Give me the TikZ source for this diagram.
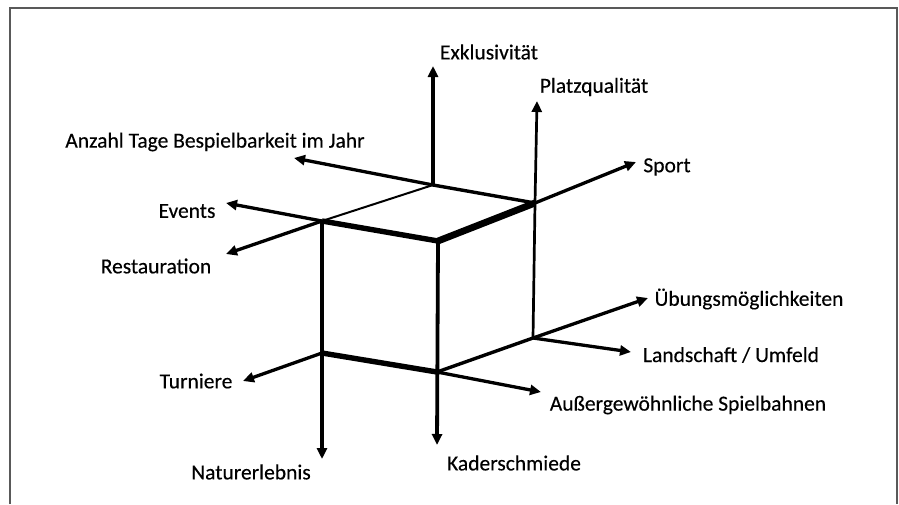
\documentclass[tikz,border=0pt]{standalone}
\usepackage{fontspec}
\setmainfont[FakeBold=0.3]{Carlito}
\usetikzlibrary{arrows.meta}
\begin{document}
\begin{tikzpicture}[x=1pt,y=-1pt,
  lbl/.style={font=\fontsize{21.5}{24}\selectfont, inner sep=0pt, anchor=center},
  ax/.style={line width=3.3pt, -{Triangle[length=11pt,width=10pt]}},
  vax/.style={line width=3.8pt, -{Triangle[length=11pt,width=10pt]}},
  thinax/.style={line width=2.7pt, -{Triangle[length=11pt,width=10pt]}},
  edgethin/.style={line width=2pt},
  edgemid/.style={line width=3.4pt},
  edgethick/.style={line width=5.4pt},
  edgeheavy/.style={line width=6.8pt},
  frameline/.style={line width=1.8pt, draw=black!65}]
\useasboundingbox (0,0) rectangle (899,504);
% frame
\draw[frameline] (10,504) -- (10,8) -- (897,8) -- (897,504);
% cube vertices
\coordinate (TBL) at (433,185);
\coordinate (TBR) at (535,203);
\coordinate (TFL) at (322,221);
\coordinate (TFR) at (438,241);
\coordinate (BFL) at (322,353);
\coordinate (BFR) at (437,372);
\coordinate (BBR) at (533,338);
% arrow tips
\coordinate (tExk) at (433,66);
\coordinate (tPlatz) at (537,101);
\coordinate (tAnz) at (294,158);
\coordinate (tSport) at (636,162);
\coordinate (tEvents) at (226,203);
\coordinate (tRest) at (226,254);
\coordinate (tUeb) at (648,298);
\coordinate (tLand) at (631,352);
\coordinate (tAuss) at (541,392);
\coordinate (tTurn) at (243,381);
\coordinate (tNatur) at (322,459);
\coordinate (tKader) at (437,445);
% labels
\node[lbl] (lExk) at (489,52) {Exklusivität};
\node[lbl] (lPlatz) at (594,87) {Platzqualität};
\node[lbl] (lAnz) at (215,142) {Anzahl Tage Bespielbarkeit im Jahr};
\node[lbl] (lSport) at (667,167) {Sport};
\node[lbl] (lEvents) at (187,211) {Events};
\node[lbl] (lRest) at (156,266) {Restauration};
\node[lbl] (lUeb) at (749,299) {Übungsmöglichkeiten};
\node[lbl] (lLand) at (731,355) {Landschaft / Umfeld};
\node[lbl] (lTurn) at (196,381) {Turniere};
\node[lbl] (lAuss) at (688,405) {Außergewöhnliche Spielbahnen};
\node[lbl] (lKader) at (514,463) {Kaderschmiede};
\node[lbl] (lNatur) at (251,472) {Naturerlebnis};
% axes
\draw[ax] (TBL) -- (tExk);
\draw[thinax] (BBR) -- (TBR) -- (tPlatz);
\draw[ax] (TBL) -- (tAnz);
\draw[edgemid] (TBR) -- (TBL);
\draw[ax] (TBR) -- (tSport);
\draw[ax] (TFL) -- (tEvents);
\draw[edgethin] (TBL) -- (TFL);
\draw[ax] (TFL) -- (tRest);
\draw[ax] (BBR) -- (tUeb);
\draw[edgemid] (BFR) -- (BBR);
\draw[ax] (BBR) -- (tLand);
\draw[ax] (BFR) -- (tAuss);
\draw[ax] (BFL) -- (tTurn);
\draw[vax] (TFL) -- (tNatur);
\draw[vax] (TFR) -- (tKader);
% heavy cube edges
\draw[edgethick] (TFL) -- (TFR);
\draw[edgeheavy] (TFR) -- (TBR);
\draw[edgethick] (BFL) -- (BFR);
\end{tikzpicture}
\end{document}
